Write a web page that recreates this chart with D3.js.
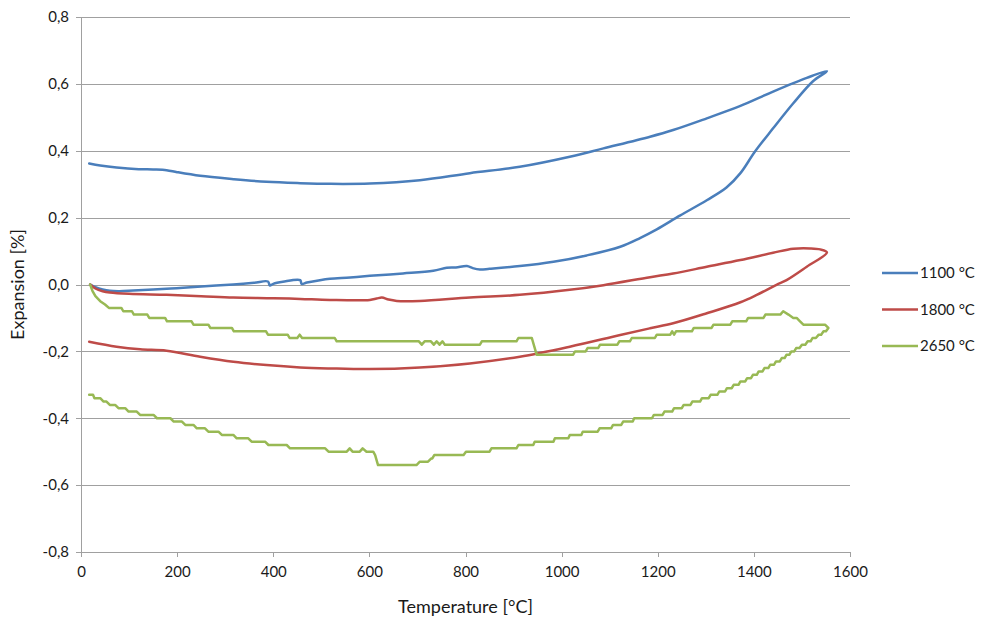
<!DOCTYPE html>
<html>
<head>
<meta charset="utf-8">
<script src="https://cdn.jsdelivr.net/npm/d3@7/dist/d3.min.js"></script>
<style>
  html, body { margin: 0; padding: 0; background: #fff; }
  svg { display: block; font-family: Lato, "Open Sans", sans-serif; }
</style>
</head>
<body>
<svg id="chart" width="982" height="619"></svg>
<script>
// Dilatometer runs: heating branch followed by cooling branch, [temperature °C, expansion %]
const seriesNames = ["1100 °C", "1800 °C", "2650 °C"];
const seriesColors = ["#4a7ebb", "#be4b48", "#98b954"];

const run1100 = [
  [19, 0.0], [30, -0.008], [45, -0.015], [60, -0.019], [80, -0.02], [109, -0.018],
  [150, -0.015], [199, -0.011], [250, -0.006], [317, 0.0], [360, 0.005], [389, 0.009],
  [393, -0.003], [400, 0.002], [420, 0.008], [456, 0.013], [459, 0.002], [470, 0.006],
  [497, 0.013], [518, 0.017], [560, 0.021], [601, 0.026], [670, 0.033], [733, 0.041],
  [761, 0.050], [780, 0.051], [803, 0.055], [815, 0.049], [830, 0.045], [850, 0.047],
  [913, 0.055], [983, 0.068], [1052, 0.087], [1122, 0.113], [1163, 0.139], [1198, 0.165],
  [1246, 0.206], [1302, 0.252], [1343, 0.290], [1372, 0.333], [1402, 0.397], [1440, 0.467],
  [1482, 0.542], [1523, 0.608], [1552, 0.638],
  [1510, 0.618], [1440, 0.577], [1372, 0.534], [1302, 0.497], [1232, 0.462], [1184, 0.442],
  [1087, 0.407], [1017, 0.382], [913, 0.352], [809, 0.333], [705, 0.312], [601, 0.302],
  [518, 0.301], [456, 0.303], [386, 0.307], [317, 0.315], [248, 0.325], [200, 0.336],
  [178, 0.342], [150, 0.344], [120, 0.345], [74, 0.350], [40, 0.356], [17, 0.362]
];

const run1800 = [
  [19, 0.0], [30, -0.012], [45, -0.02], [60, -0.024], [100, -0.028], [178, -0.031],
  [250, -0.035], [317, -0.039], [400, -0.041], [456, -0.043], [518, -0.046], [601, -0.046],
  [615, -0.042], [626, -0.039], [640, -0.045], [657, -0.049], [705, -0.049], [809, -0.039],
  [913, -0.031], [1017, -0.016], [1087, -0.002], [1184, 0.022], [1232, 0.033], [1302, 0.053],
  [1372, 0.073], [1440, 0.095], [1482, 0.107], [1517, 0.108], [1538, 0.105], [1552, 0.096],
  [1510, 0.053], [1468, 0.013], [1447, -0.001], [1406, -0.031], [1372, -0.053], [1302, -0.086],
  [1232, -0.116], [1184, -0.131], [1122, -0.151], [1017, -0.186], [913, -0.216], [809, -0.236],
  [705, -0.248], [601, -0.253], [518, -0.251], [456, -0.248], [386, -0.241], [317, -0.231],
  [248, -0.216], [178, -0.198], [123, -0.194], [74, -0.186], [17, -0.171]
];

// 2650 °C readings are quantised to 0.01 %: each entry is a plateau [from °C, to °C, expansion %]
const run2650Heating = [
  [19, 19, 0.0], [24, 24, -0.02], [30, 30, -0.035], [40, 40, -0.05], [50, 50, -0.06],
  [58, 84, -0.07], [88, 106, -0.08], [110, 138, -0.09], [142, 175, -0.10], [179, 230, -0.11],
  [234, 265, -0.12], [269, 314, -0.13], [318, 385, -0.14], [389, 430, -0.15], [434, 450, -0.16],
  [455, 455, -0.15], [460, 528, -0.16], [532, 703, -0.17], [709, 709, -0.18], [715, 728, -0.17],
  [734, 734, -0.18], [740, 740, -0.17], [746, 746, -0.18], [752, 752, -0.17], [757, 830, -0.18],
  [834, 906, -0.17], [910, 938, -0.16], [948, 1024, -0.21], [1028, 1050, -0.20],
  [1054, 1076, -0.19], [1080, 1116, -0.18], [1120, 1142, -0.17], [1146, 1194, -0.16],
  [1198, 1226, -0.15], [1230, 1230, -0.14], [1234, 1234, -0.15], [1238, 1271, -0.14],
  [1275, 1312, -0.13], [1316, 1351, -0.12], [1355, 1384, -0.11], [1388, 1420, -0.10],
  [1424, 1455, -0.09], [1461, 1461, -0.08], [1472, 1472, -0.09], [1482, 1489, -0.10],
  [1496, 1496, -0.11], [1503, 1548, -0.12], [1555, 1555, -0.13]
];

const run2650Cooling = [
  [1550, 1545, -0.14], [1540, 1535, -0.15], [1529, 1522, -0.16], [1518, 1512, -0.17],
  [1507, 1500, -0.18], [1495, 1488, -0.19], [1484, 1478, -0.20], [1474, 1468, -0.21],
  [1464, 1458, -0.22], [1454, 1446, -0.23], [1442, 1434, -0.24], [1430, 1422, -0.25],
  [1418, 1410, -0.26], [1406, 1398, -0.27], [1394, 1386, -0.28], [1382, 1372, -0.29],
  [1368, 1358, -0.30], [1354, 1344, -0.31], [1340, 1328, -0.32], [1324, 1310, -0.33],
  [1306, 1292, -0.34], [1288, 1272, -0.35], [1268, 1254, -0.36], [1250, 1234, -0.37],
  [1230, 1214, -0.38], [1210, 1192, -0.39], [1188, 1151, -0.40], [1148, 1128, -0.41],
  [1124, 1107, -0.42], [1103, 1079, -0.43], [1075, 1044, -0.44], [1041, 1017, -0.45],
  [1014, 986, -0.46], [983, 944, -0.47], [941, 910, -0.48], [906, 854, -0.49],
  [850, 801, -0.50], [796, 735, -0.51], [731, 729, -0.52], [722, 705, -0.53],
  [698, 618, -0.54], [612, 612, -0.51], [608, 594, -0.50], [586, 586, -0.49],
  [580, 565, -0.50], [559, 559, -0.49], [553, 515, -0.50], [508, 435, -0.49],
  [428, 390, -0.48], [383, 355, -0.47], [348, 324, -0.46], [317, 293, -0.45],
  [286, 265, -0.44], [258, 241, -0.43], [234, 217, -0.42], [210, 193, -0.41],
  [186, 158, -0.40], [151, 123, -0.39], [116, 99, -0.38], [92, 78, -0.37],
  [71, 60, -0.36], [53, 47, -0.35], [40, 28, -0.34], [25, 17, -0.33]
];

const xTicks = [0, 200, 400, 600, 800, 1000, 1200, 1400, 1600];
const yTicks = [-0.8, -0.6, -0.4, -0.2, 0.0, 0.2, 0.4, 0.6, 0.8];
const xTitle = "Temperature [°C]";
const yTitle = "Expansion [%]";

// plateaus -> polyline vertices
const plateauPoints = rows => rows.flatMap(([a, b, v]) => a === b ? [[a, v]] : [[a, v], [b, v]]);
const run2650 = plateauPoints(run2650Heating).concat(plateauPoints(run2650Cooling));
const runs = [run1100, run1800, run2650];
// smooth traces for the continuous sensors, straight segments for the stepped one
const curves = [d3.curveCatmullRom.alpha(0.5), d3.curveCatmullRom.alpha(0.5), d3.curveLinear];

const svg = d3.select("#chart");
const plot = { left: 81, right: 850, top: 17, bottom: 552 };

const x = d3.scaleLinear().domain([0, 1600]).range([plot.left, plot.right]);
const y = d3.scaleLinear().domain([-0.8, 0.8]).range([plot.bottom, plot.top]);
const fmt = v => d3.format(".1f")(v).replace(".", ",").replace("−", "-");

const gridColor = "#a0a0a0";
const textColor = "#1a1a1a";

// horizontal gridlines with tick labels
const yAxis = d3.axisLeft(y).tickValues(yTicks).tickFormat(fmt)
  .tickSize(-(plot.right - plot.left)).tickSizeOuter(0).tickPadding(12);
const gy = svg.append("g").attr("transform", `translate(${plot.left},0)`).call(yAxis);
gy.select(".domain").remove();
gy.selectAll(".tick line").attr("stroke", gridColor).attr("stroke-width", 1)
  .attr("x1", -5).attr("shape-rendering", "crispEdges");
gy.selectAll(".tick text").attr("fill", textColor).style("font-size", "15px")
  .style("font-family", "Lato, sans-serif");

// vertical axis line
svg.append("line")
  .attr("x1", plot.left).attr("x2", plot.left)
  .attr("y1", plot.top).attr("y2", plot.bottom)
  .attr("stroke", gridColor).attr("shape-rendering", "crispEdges");

// bottom axis ticks and labels
const xAxis = d3.axisBottom(x).tickValues(xTicks).tickFormat(d3.format("d"))
  .tickSize(5).tickSizeOuter(0).tickPadding(9);
const gx = svg.append("g").attr("transform", `translate(0,${plot.bottom})`).call(xAxis);
gx.select(".domain").remove();
gx.selectAll(".tick line").attr("stroke", gridColor).attr("shape-rendering", "crispEdges");
gx.selectAll(".tick text").attr("fill", textColor).style("font-size", "15px")
  .style("font-family", "Lato, sans-serif");

// curves
svg.append("g").selectAll("path").data(runs).join("path")
  .attr("d", (d, i) => d3.line().x(p => x(p[0])).y(p => y(p[1])).curve(curves[i])(d))
  .attr("fill", "none")
  .attr("stroke", (d, i) => seriesColors[i])
  .attr("stroke-width", 2.5)
  .attr("stroke-linejoin", "round")
  .attr("stroke-linecap", "round");

// axis titles
svg.append("text")
  .attr("x", (plot.left + plot.right) / 2).attr("y", 613)
  .attr("text-anchor", "middle").attr("fill", textColor)
  .style("font-size", "18px").text(xTitle);
svg.append("text")
  .attr("transform", `translate(24,${(plot.top + plot.bottom) / 2}) rotate(-90)`)
  .attr("text-anchor", "middle").attr("fill", textColor)
  .style("font-size", "18px").text(yTitle);

// legend
const legendY = d3.scalePoint().domain(seriesNames).range([273, 346]);
const lg = svg.append("g").selectAll("g").data(seriesNames).join("g")
  .attr("transform", d => `translate(882,${legendY(d)})`);
lg.append("line").attr("x1", 0).attr("x2", 36).attr("y1", 0).attr("y2", 0)
  .attr("stroke", (d, i) => seriesColors[i]).attr("stroke-width", 2.5);
lg.append("text").attr("x", 38).attr("dy", "0.36em").attr("fill", textColor)
  .style("font-size", "15px").text(d => d);
</script>
</body>
</html>
